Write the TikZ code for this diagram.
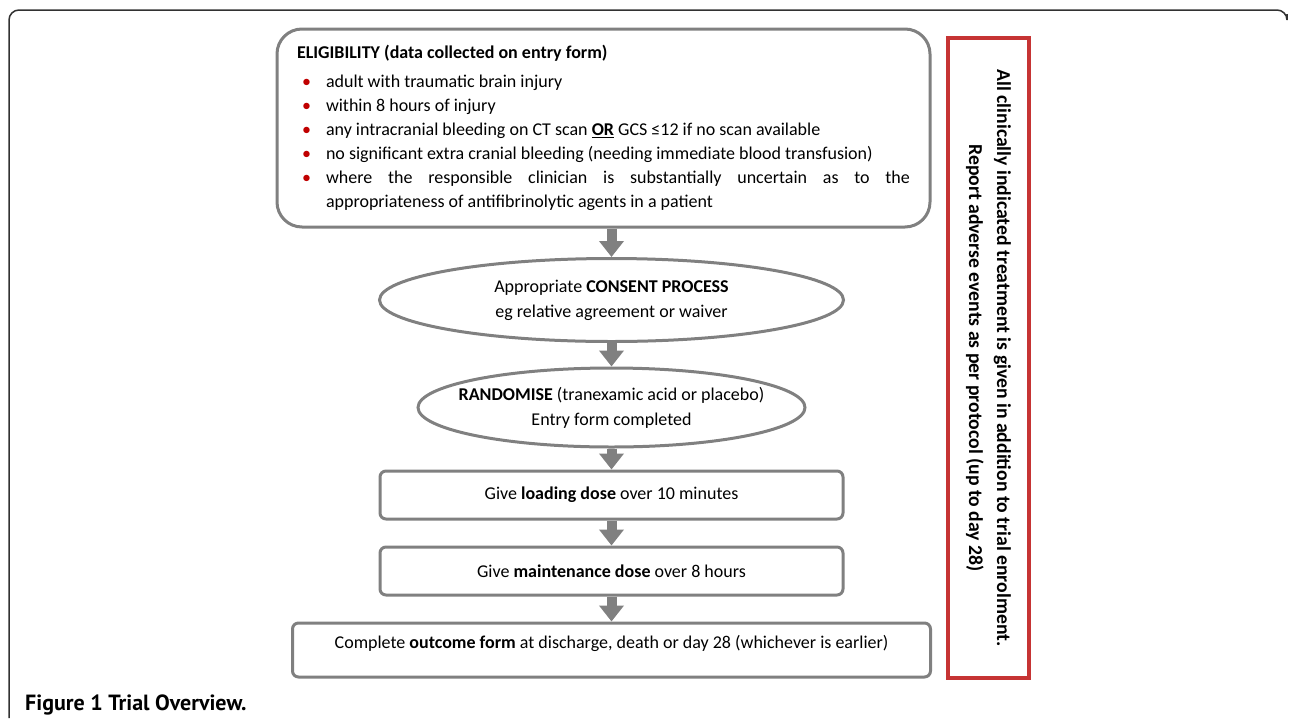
\documentclass[tikz,border=0pt]{standalone}
\usepackage{fontspec}
\setmainfont{Carlito}
\newfontfamily\capfont{PT Sans}
\usetikzlibrary{positioning,shapes.geometric,arrows.meta}
\definecolor{boxgray}{RGB}{128,128,128}
\definecolor{dotred}{RGB}{192,0,0}
\definecolor{notered}{RGB}{198,52,52}
\definecolor{framegray}{RGB}{50,50,50}
\newcommand{\eitem}[1]{{\leftskip=29pt\noindent\hspace*{-24pt}\makebox[24pt][l]{\textcolor{dotred}{\textbullet}}#1\par}}

\begin{document}
\begin{tikzpicture}[x=1pt,y=-1pt,
	every node/.style={font=\fontsize{18}{24}\selectfont, inner sep=0pt},
	elbox/.style={draw=boxgray, line width=3pt, rounded corners=25pt},
	oval/.style={ellipse, draw=boxgray, line width=3pt, align=center, inner xsep=-18pt,
		font=\fontsize{18}{25}\selectfont},
	stepbox/.style={draw=boxgray, line width=3pt, rounded corners=6pt, align=center},
	flow/.style={color=boxgray, line width=10pt, -{Triangle[length=16pt,width=24pt]}}]
		\useasboundingbox (0,0) rectangle (1290,718);
		\draw[framegray, line width=1.5pt, rounded corners=10pt] (9,718) -- (9,10) -- (1287,10) -- (1287,14);
		
		\node[elbox, minimum width=653, minimum height=198, text width=613, align=justify] (elig) at (603.5,128)
			{\textbf{ELIGIBILITY (data collected on entry form)}\par\vspace{5pt}
			\eitem{adult with traumatic brain injury}
			\eitem{within 8 hours of injury}
			\eitem{any intracranial bleeding on CT scan \underline{\textbf{OR}} GCS ≤12 if no scan available}
			\eitem{no significant extra cranial bleeding (needing immediate blood transfusion)}
			\eitem{where the responsible clinician is substantially uncertain as to the\linebreak appropriateness of antifibrinolytic agents in a patient}};
		\node[oval, minimum width=464, minimum height=83] (consent) at (611.5,300)
			{Appropriate \textbf{CONSENT PROCESS}\\eg relative agreement or waiver};
		\node[oval, minimum width=387, minimum height=79] (rand) at (611.5,407.5)
			{\textbf{RANDOMISE} (tranexamic acid or placebo)\\Entry form completed};
		\node[stepbox, minimum width=463, minimum height=48] (load) at (611.5,495) {Give \textbf{loading dose} over 10 minutes};
		\node[stepbox, minimum width=463, minimum height=48] (maint) at (611.5,571) {Give \textbf{maintenance dose} over 8 hours};
		\node[stepbox, minimum width=638, minimum height=54, text depth=16pt] (outcome) at (611.5,650)
			{Complete \textbf{outcome form} at discharge, death or day 28 (whichever is earlier)};
		
		\node[draw=notered, line width=4pt, rotate=-90, minimum width=640, minimum height=81, align=center,
			font=\fontsize{19.7}{28}\selectfont\bfseries] (note) at (988.5,358)
			{All clinically indicated treatment is given in addition to trial enrolment.\\Report adverse events as per protocol (up to day 28)};
		
		\draw[flow] (consent |- elig.south) -- (consent);
		\draw[flow] (consent) -- (rand);
		\draw[flow] (rand) -- (load);
		\draw[flow] (load) -- (maint);
		\draw[flow] (maint) -- (outcome);
		
		\node[anchor=base west, font=\capfont\fontsize{22}{24}\selectfont\bfseries] (cap) at (25,710) {Figure 1 Trial Overview.};
\end{tikzpicture}
\end{document}
